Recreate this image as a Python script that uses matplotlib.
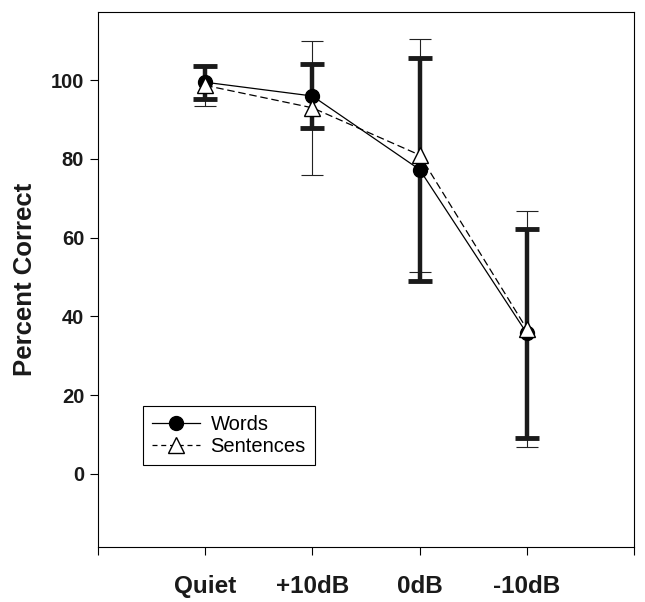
import matplotlib
matplotlib.use("Agg")
import matplotlib.pyplot as plt
from matplotlib.lines import Line2D

plt.rcParams['font.family'] = ['Liberation Sans', 'DejaVu Sans']

categories = ["Quiet", "+10dB", "0dB", "-10dB"]
words_mean = [99.5, 96.0, 77.3, 35.7]
words_err = [4.2, 8.2, 28.3, 26.5]
sent_mean = [98.7, 93.0, 81.0, 36.8]
sent_err = [5.3, 17.0, 29.6, 29.9]
x = [1, 2, 3, 4]

fig = plt.figure(figsize=(6.45, 6.02), dpi=100)
ax = fig.add_axes([0.152, 0.0914, 0.831, 0.889])

# thin error bars for sentences
ax.errorbar(x, sent_mean, yerr=sent_err, fmt='none', ecolor='#222222',
            elinewidth=0.8, capsize=8, capthick=0.8, zorder=2)
# thick error bars for words
ax.errorbar(x, words_mean, yerr=words_err, fmt='none', ecolor='#1a1a1a',
            elinewidth=3.2, capsize=8.5, capthick=3.5, zorder=3)

ax.plot(x, words_mean, '-', color='black', lw=0.9, marker='o', ms=10,
        mfc='black', mec='black', zorder=4)
ax.plot(x, sent_mean, '--', color='black', lw=0.9, dashes=(6, 3), marker='^', ms=11,
        mfc='white', mec='black', mew=1.0, zorder=5)

ax.set_xlim(0, 5)
ax.set_ylim(-18.6, 117.4)
ax.set_yticks([0, 20, 40, 60, 80, 100])
ax.set_xticks([0, 1, 2, 3, 4, 5])
ax.set_xticklabels([""] + categories + [""])
ax.tick_params(axis='y', direction='out', length=6, width=0.8, labelsize=14.5, pad=4)
ax.tick_params(axis='x', direction='out', length=6, width=0.8, labelsize=17.5, pad=14)
for lab in ax.get_yticklabels() + ax.get_xticklabels():
    lab.set_fontweight('bold')
    lab.set_color('#1a1a1a')
for s in ax.spines.values():
    s.set_linewidth(0.8)

ax.set_ylabel("Percent Correct", fontsize=18.5, fontweight='bold', labelpad=10,
              color='#1a1a1a')

handles = [
    Line2D([], [], color='black', lw=0.9, marker='o', ms=10, mfc='black', mec='black'),
    Line2D([], [], color='black', lw=0.9, ls='--', dashes=(4, 3), marker='^', ms=11,
           mfc='white', mec='black'),
]
leg = ax.legend(handles, ["Words", "Sentences"], loc='lower left',
                bbox_to_anchor=(0.084, 0.153), fontsize=14.5, frameon=True,
                fancybox=False, edgecolor='black', framealpha=1,
                handlelength=2.4, borderpad=0.45, labelspacing=0.15, handletextpad=0.5,
                borderaxespad=0)
leg.get_frame().set_linewidth(0.8)

fig.savefig("out.png", dpi=100)
